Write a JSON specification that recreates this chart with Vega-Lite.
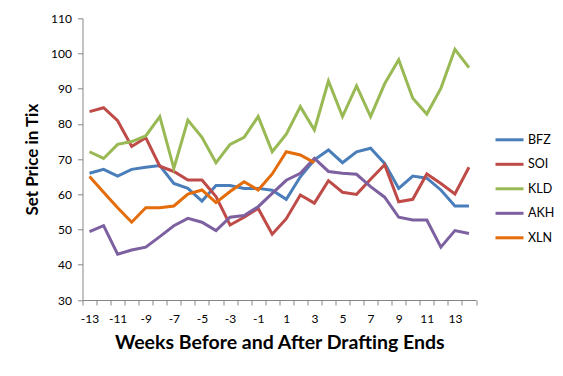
{
  "$schema": "https://vega.github.io/schema/vega-lite/v6.json",
  "width": 393.5,
  "height": 281.7,
  "autosize": "none",
  "padding": {"left": 82.5, "top": 18.3, "right": 87, "bottom": 76},
  "background": "white",
  "config": {
    "font": "Lato",
    "view": {"stroke": null},
    "axis": {"grid": false, "domainColor": "#868686", "tickColor": "#868686", "labelColor": "#000000", "titleColor": "#000000", "labelFont": "Lato", "titleFont": "Lato"}
  },
  "datasets": {
    "prices": [
      {"week": -13, "series": "BFZ", "price": 66.0}, {"week": -12, "series": "BFZ", "price": 67.1}, {"week": -11, "series": "BFZ", "price": 65.2}, {"week": -10, "series": "BFZ", "price": 67.1}, {"week": -9, "series": "BFZ", "price": 67.7}, {"week": -8, "series": "BFZ", "price": 68.2}, {"week": -7, "series": "BFZ", "price": 63.1}, {"week": -6, "series": "BFZ", "price": 61.7}, {"week": -5, "series": "BFZ", "price": 58.1}, {"week": -4, "series": "BFZ", "price": 62.5}, {"week": -3, "series": "BFZ", "price": 62.5}, {"week": -2, "series": "BFZ", "price": 61.7}, {"week": -1, "series": "BFZ", "price": 61.7}, {"week": 0, "series": "BFZ", "price": 61.2}, {"week": 1, "series": "BFZ", "price": 58.6}, {"week": 2, "series": "BFZ", "price": 65.0}, {"week": 3, "series": "BFZ", "price": 69.8}, {"week": 4, "series": "BFZ", "price": 72.6}, {"week": 5, "series": "BFZ", "price": 69.0}, {"week": 6, "series": "BFZ", "price": 72.1}, {"week": 7, "series": "BFZ", "price": 73.1}, {"week": 8, "series": "BFZ", "price": 68.8}, {"week": 9, "series": "BFZ", "price": 61.7}, {"week": 10, "series": "BFZ", "price": 65.2}, {"week": 11, "series": "BFZ", "price": 64.6}, {"week": 12, "series": "BFZ", "price": 61.25}, {"week": 13, "series": "BFZ", "price": 56.7}, {"week": 14, "series": "BFZ", "price": 56.7},
      {"week": -13, "series": "SOI", "price": 83.5}, {"week": -12, "series": "SOI", "price": 84.6}, {"week": -11, "series": "SOI", "price": 80.9}, {"week": -10, "series": "SOI", "price": 73.6}, {"week": -9, "series": "SOI", "price": 76.1}, {"week": -8, "series": "SOI", "price": 68.0}, {"week": -7, "series": "SOI", "price": 66.5}, {"week": -6, "series": "SOI", "price": 64.1}, {"week": -5, "series": "SOI", "price": 64.1}, {"week": -4, "series": "SOI", "price": 59.4}, {"week": -3, "series": "SOI", "price": 51.3}, {"week": -2, "series": "SOI", "price": 53.5}, {"week": -1, "series": "SOI", "price": 56.0}, {"week": 0, "series": "SOI", "price": 48.7}, {"week": 1, "series": "SOI", "price": 53.1}, {"week": 2, "series": "SOI", "price": 59.8}, {"week": 3, "series": "SOI", "price": 57.5}, {"week": 4, "series": "SOI", "price": 63.9}, {"week": 5, "series": "SOI", "price": 60.6}, {"week": 6, "series": "SOI", "price": 60.0}, {"week": 7, "series": "SOI", "price": 64.3}, {"week": 8, "series": "SOI", "price": 68.4}, {"week": 9, "series": "SOI", "price": 57.9}, {"week": 10, "series": "SOI", "price": 58.6}, {"week": 11, "series": "SOI", "price": 65.8}, {"week": 12, "series": "SOI", "price": 63.1}, {"week": 13, "series": "SOI", "price": 60.1}, {"week": 14, "series": "SOI", "price": 67.7},
      {"week": -13, "series": "KLD", "price": 72.1}, {"week": -12, "series": "KLD", "price": 70.2}, {"week": -11, "series": "KLD", "price": 74.2}, {"week": -10, "series": "KLD", "price": 75.0}, {"week": -9, "series": "KLD", "price": 76.6}, {"week": -8, "series": "KLD", "price": 82.1}, {"week": -7, "series": "KLD", "price": 67.4}, {"week": -6, "series": "KLD", "price": 81.1}, {"week": -5, "series": "KLD", "price": 76.2}, {"week": -4, "series": "KLD", "price": 69.0}, {"week": -3, "series": "KLD", "price": 74.2}, {"week": -2, "series": "KLD", "price": 76.2}, {"week": -1, "series": "KLD", "price": 82.1}, {"week": 0, "series": "KLD", "price": 72.1}, {"week": 1, "series": "KLD", "price": 77.1}, {"week": 2, "series": "KLD", "price": 84.9}, {"week": 3, "series": "KLD", "price": 78.3}, {"week": 4, "series": "KLD", "price": 92.2}, {"week": 5, "series": "KLD", "price": 82.1}, {"week": 6, "series": "KLD", "price": 90.8}, {"week": 7, "series": "KLD", "price": 82.1}, {"week": 8, "series": "KLD", "price": 91.4}, {"week": 9, "series": "KLD", "price": 98.2}, {"week": 10, "series": "KLD", "price": 87.3}, {"week": 11, "series": "KLD", "price": 82.8}, {"week": 12, "series": "KLD", "price": 90.1}, {"week": 13, "series": "KLD", "price": 101.2}, {"week": 14, "series": "KLD", "price": 96.0},
      {"week": -13, "series": "AKH", "price": 49.4}, {"week": -12, "series": "AKH", "price": 51.1}, {"week": -11, "series": "AKH", "price": 43.0}, {"week": -10, "series": "AKH", "price": 44.2}, {"week": -9, "series": "AKH", "price": 45.0}, {"week": -8, "series": "AKH", "price": 48.0}, {"week": -7, "series": "AKH", "price": 51.1}, {"week": -6, "series": "AKH", "price": 53.2}, {"week": -5, "series": "AKH", "price": 52.1}, {"week": -4, "series": "AKH", "price": 49.7}, {"week": -3, "series": "AKH", "price": 53.5}, {"week": -2, "series": "AKH", "price": 54.0}, {"week": -1, "series": "AKH", "price": 56.5}, {"week": 0, "series": "AKH", "price": 60.3}, {"week": 1, "series": "AKH", "price": 64.0}, {"week": 2, "series": "AKH", "price": 66.0}, {"week": 3, "series": "AKH", "price": 70.2}, {"week": 4, "series": "AKH", "price": 66.5}, {"week": 5, "series": "AKH", "price": 66.0}, {"week": 6, "series": "AKH", "price": 65.7}, {"week": 7, "series": "AKH", "price": 62.2}, {"week": 8, "series": "AKH", "price": 59.2}, {"week": 9, "series": "AKH", "price": 53.5}, {"week": 10, "series": "AKH", "price": 52.7}, {"week": 11, "series": "AKH", "price": 52.7}, {"week": 12, "series": "AKH", "price": 45.0}, {"week": 13, "series": "AKH", "price": 49.7}, {"week": 14, "series": "AKH", "price": 48.9},
      {"week": -13, "series": "XLN", "price": 65.1}, {"week": -12, "series": "XLN", "price": 60.6}, {"week": -11, "series": "XLN", "price": 56.2}, {"week": -10, "series": "XLN", "price": 52.1}, {"week": -9, "series": "XLN", "price": 56.2}, {"week": -8, "series": "XLN", "price": 56.2}, {"week": -7, "series": "XLN", "price": 56.7}, {"week": -6, "series": "XLN", "price": 60.1}, {"week": -5, "series": "XLN", "price": 61.25}, {"week": -4, "series": "XLN", "price": 57.65}, {"week": -3, "series": "XLN", "price": 60.8}, {"week": -2, "series": "XLN", "price": 63.6}, {"week": -1, "series": "XLN", "price": 61.25}, {"week": 0, "series": "XLN", "price": 65.8}, {"week": 1, "series": "XLN", "price": 72.1}, {"week": 2, "series": "XLN", "price": 71.2}, {"week": 3, "series": "XLN", "price": 69.0}
    ]
  },
  "data": {"name": "prices"},
  "mark": {"type": "line", "strokeWidth": 3},
  "encoding": {
    "x": {
      "field": "week",
      "type": "ordinal",
      "sort": "ascending",
      "scale": {"type": "band", "paddingInner": 0, "paddingOuter": 0},
      "axis": {
        "title": "Weeks Before and After Drafting Ends",
        "labelAngle": 0,
        "labelExpr": "abs(datum.value) % 2 == 1 ? datum.label : ''",
        "tickBand": "extent",
        "tickSize": 5,
        "labelFontSize": 12,
        "labelPadding": 8,
        "titleFontSize": 19.5,
        "titleFontWeight": "bold",
        "titlePadding": 9
      }
    },
    "y": {
      "field": "price",
      "type": "quantitative",
      "scale": {"domain": [30, 110], "nice": false, "zero": false},
      "axis": {
        "title": "Set Price in Tix",
        "values": [30, 40, 50, 60, 70, 80, 90, 100, 110],
        "tickSize": 5,
        "labelFontSize": 12,
        "labelPadding": 6,
        "titleFontSize": 17,
        "titleFontWeight": "bold",
        "titlePadding": 9
      }
    },
    "color": {
      "field": "series",
      "type": "nominal",
      "scale": {"domain": ["BFZ", "SOI", "KLD", "AKH", "XLN"], "range": ["#4A7EBB", "#BE4B48", "#98B954", "#7D60A0", "#E46C0A"]},
      "legend": {
        "title": null,
        "orient": "none",
        "legendX": 411.5,
        "legendY": 106,
        "symbolType": "stroke",
        "symbolSize": 784,
        "symbolStrokeWidth": 3,
        "labelFontSize": 12.5,
        "labelOffset": 3,
        "rowPadding": 2.5,
        "padding": 0,
        "labelColor": "#000000"
      }
    }
  }
}
